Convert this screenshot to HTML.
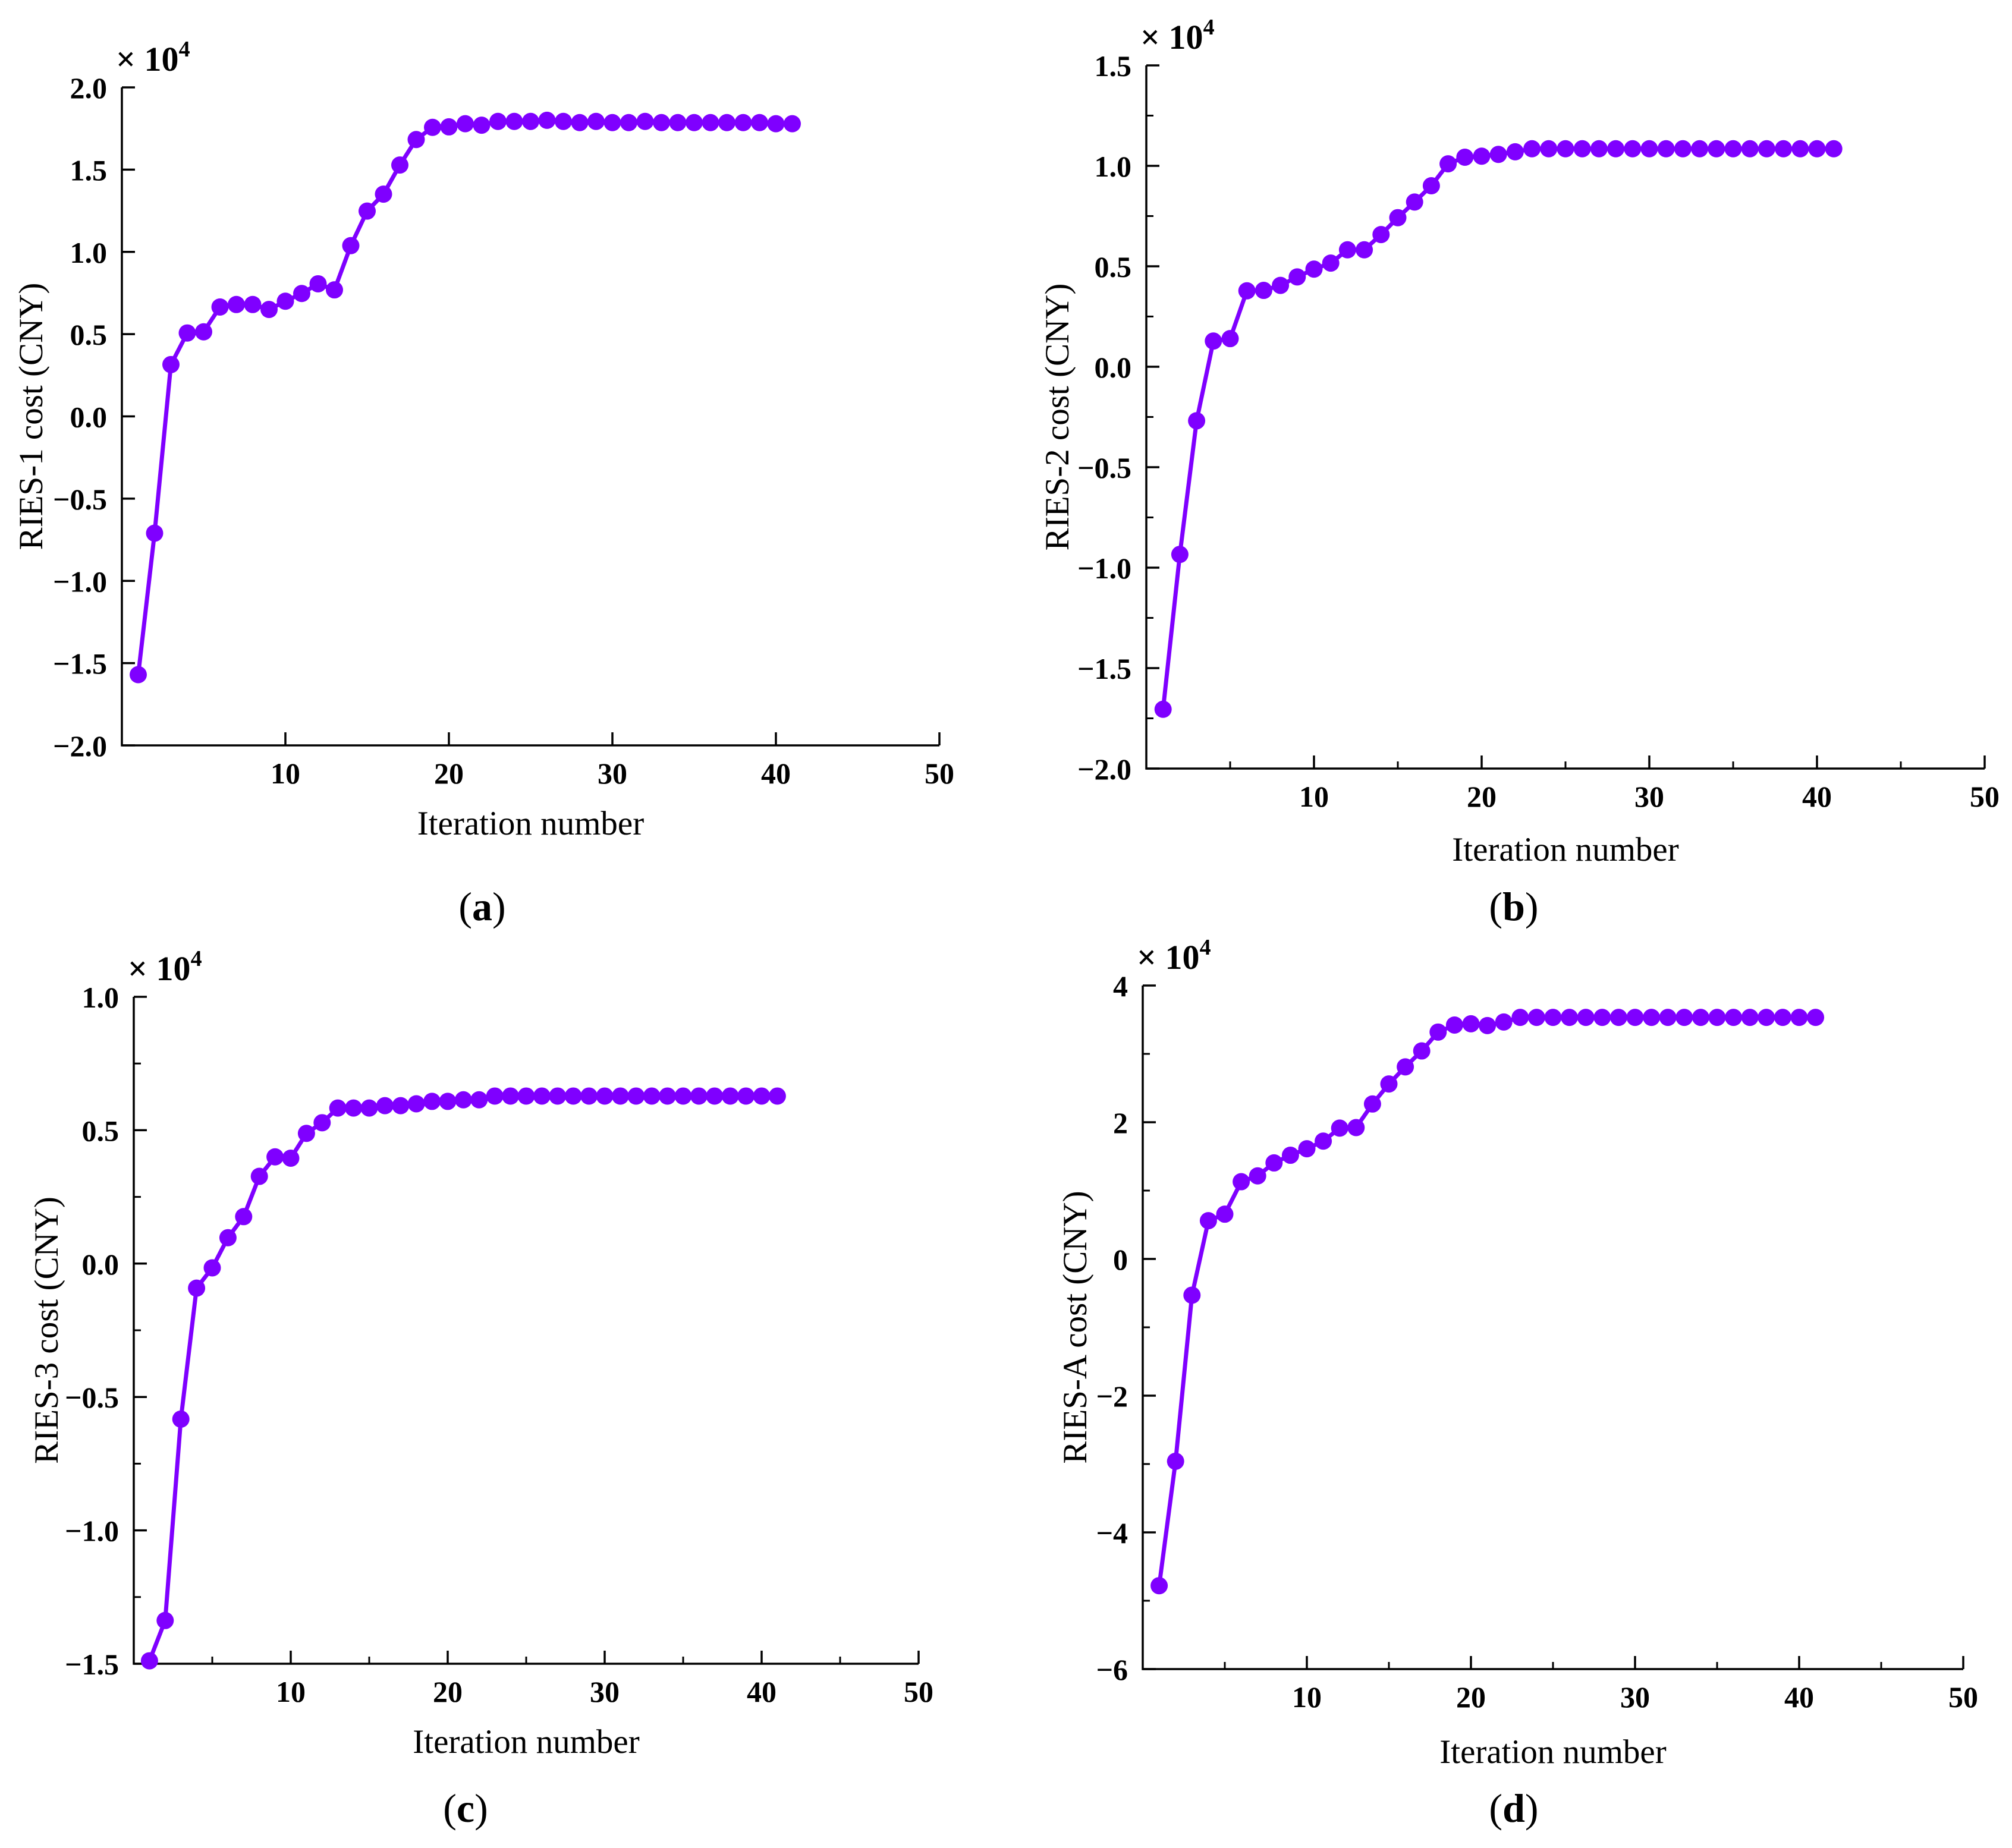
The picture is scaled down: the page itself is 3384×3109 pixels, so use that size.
<!DOCTYPE html>
<html><head><meta charset="utf-8"><style>
html,body{margin:0;padding:0;background:#fff}
svg{display:block}
text{font-family:"Liberation Serif",serif;fill:#000}
</style></head><body>
<svg id="fig" width="3384" height="3109" viewBox="0 0 3384 3109" xmlns="http://www.w3.org/2000/svg"></svg>
<script>
const iterations = Array.from({length:41},(_,i)=>i+1);
const xTicks = [10,20,30,40,50];
const seriesA = [-1.57,-0.71,0.315,0.507,0.514,0.665,0.68,0.68,0.65,0.70,0.747,0.806,0.769,1.038,1.248,1.351,1.528,1.683,1.757,1.76,1.779,1.77,1.793,1.793,1.793,1.80,1.793,1.786,1.793,1.786,1.786,1.793,1.786,1.786,1.786,1.786,1.786,1.786,1.786,1.779,1.779];
const seriesB = [-1.705,-0.934,-0.269,0.128,0.14,0.378,0.38,0.405,0.447,0.486,0.516,0.582,0.582,0.658,0.742,0.82,0.901,1.01,1.043,1.048,1.057,1.07,1.085,1.085,1.085,1.085,1.085,1.085,1.085,1.085,1.085,1.085,1.085,1.085,1.085,1.085,1.085,1.085,1.085,1.085,1.085];
const seriesC = [-1.489,-1.338,-0.583,-0.092,-0.016,0.097,0.176,0.327,0.40,0.395,0.488,0.528,0.583,0.583,0.583,0.592,0.592,0.599,0.608,0.608,0.614,0.614,0.628,0.628,0.628,0.628,0.628,0.628,0.628,0.628,0.628,0.628,0.628,0.628,0.628,0.628,0.628,0.628,0.628,0.628,0.628];
const seriesD = [-4.78,-2.96,-0.53,0.56,0.655,1.13,1.215,1.405,1.517,1.612,1.724,1.914,1.922,2.267,2.56,2.81,3.043,3.319,3.422,3.44,3.414,3.466,3.534,3.534,3.534,3.534,3.534,3.534,3.534,3.534,3.534,3.534,3.534,3.534,3.534,3.534,3.534,3.534,3.534,3.534,3.534];
const yTicksA = [-2.0,-1.5,-1.0,-0.5,0.0,0.5,1.0,1.5,2.0];
const yTicksB = [-2.0,-1.5,-1.0,-0.5,0.0,0.5,1.0,1.5];
const yTicksC = [-1.5,-1.0,-0.5,0.0,0.5,1.0];
const yTicksD = [-6,-4,-2,0,2,4];

const NS="http://www.w3.org/2000/svg";
const svg=document.getElementById('fig');
function el(tag,attrs,parent){const e=document.createElementNS(NS,tag);for(const k in attrs)e.setAttribute(k,attrs[k]);(parent||svg).appendChild(e);return e;}

const panels=[
 {id:'a',L:205,R:1580,T:147,B:1254,ymin:-2,ymax:2,yt:yTicksA,dec:1,minor:false,data:seriesA,title:'RIES-1 cost (CNY)',tx:52,lab:[811,1548],xtOff:150},
 {id:'b',L:1928,R:3338,T:110,B:1293,ymin:-2,ymax:1.5,yt:yTicksB,dec:1,minor:true,data:seriesB,title:'RIES-2 cost (CNY)',tx:1778,lab:[2546,1548],xtOff:155},
 {id:'c',L:225,R:1545,T:1677,B:2799,ymin:-1.5,ymax:1,yt:yTicksC,dec:1,minor:true,data:seriesC,title:'RIES-3 cost (CNY)',tx:78,lab:[783,3065],xtOff:150},
 {id:'d',L:1922,R:3302,T:1658,B:2808,ymin:-6,ymax:4,yt:yTicksD,dec:0,minor:true,data:seriesD,title:'RIES-A cost (CNY)',tx:1808,lab:[2546,3065],xtOff:158}
];
const fmt=(v,d)=>{const s=Math.abs(v).toFixed(d);return (v<0?'\u2212':'')+s;};

panels.forEach(p=>{
 const g=el('g',{});
 
 
 const xs=v=>p.L+(v-0)/50*(p.R-p.L);
 const ys=v=>p.B-(v-p.ymin)/(p.ymax-p.ymin)*(p.B-p.T);
 const ax=el('path',{d:`M${p.L},${p.T}V${p.B}H${p.R}`,fill:'none',stroke:'#000','stroke-width':3.5},g);
 
 
 xTicks.forEach(t=>{
  const x=xs(t);
  el('line',{x1:x,x2:x,y1:p.B,y2:p.B-22,stroke:'#000','stroke-width':3.5},g);
  const tl=el('text',{x:x,y:p.B+64,'text-anchor':'middle','font-size':50,'font-weight':'bold'},g);
  tl.textContent=t;
  
  
  if(p.minor){const xm=xs(t-5);el('line',{x1:xm,x2:xm,y1:p.B,y2:p.B-12,stroke:'#000','stroke-width':3},g);}
 });
 p.yt.forEach((t,i)=>{
  const y=ys(t);
  el('line',{x1:p.L,x2:p.L+22,y1:y,y2:y,stroke:'#000','stroke-width':3.5},g);
  const tl=el('text',{x:p.L-25,y:y+18,'text-anchor':'end','font-size':50,'font-weight':'bold'},g);
  tl.textContent=fmt(t,p.dec);
  
  
  if(p.minor && i<p.yt.length-1){const ym=ys((t+p.yt[i+1])/2);el('line',{x1:p.L,x2:p.L+12,y1:ym,y2:ym,stroke:'#000','stroke-width':3},g);}
 });
 const mult=el('text',{x:p.L-10,y:p.T-28,'font-size':58,'font-weight':'bold'},g);
 mult.innerHTML='× 10<tspan font-size="38" dy="-24">4</tspan>';
 
 
 const xt=el('text',{x:(p.L+p.R)/2,y:p.B+p.xtOff,'text-anchor':'middle','font-size':57},g);
 xt.textContent='Iteration number';
 
 
 const cy=(p.T+p.B)/2;
 const yt=el('text',{x:p.tx+19,y:cy,'text-anchor':'middle','font-size':57,transform:`rotate(-90 ${p.tx+19} ${cy})`},g);
 yt.textContent=p.title;
 
 
 const pl=el('text',{x:p.lab[0],y:p.lab[1],'text-anchor':'middle','font-size':68},g);
 pl.innerHTML='(<tspan font-weight="bold">'+p.id+'</tspan>)';
 
 
 const pts=p.data.map((v,i)=>xs(iterations[i])+','+ys(v)).join(' ');
 const line=el('polyline',{points:pts,fill:'none',stroke:'#7F00FF','stroke-width':7,'stroke-linejoin':'round'},g);
 
 
 p.data.forEach((v,i)=>{
  const c=el('circle',{cx:xs(iterations[i]),cy:ys(v),r:14.5,fill:'#7F00FF'},g);
  
  
 });
});
</script>
</body></html>
